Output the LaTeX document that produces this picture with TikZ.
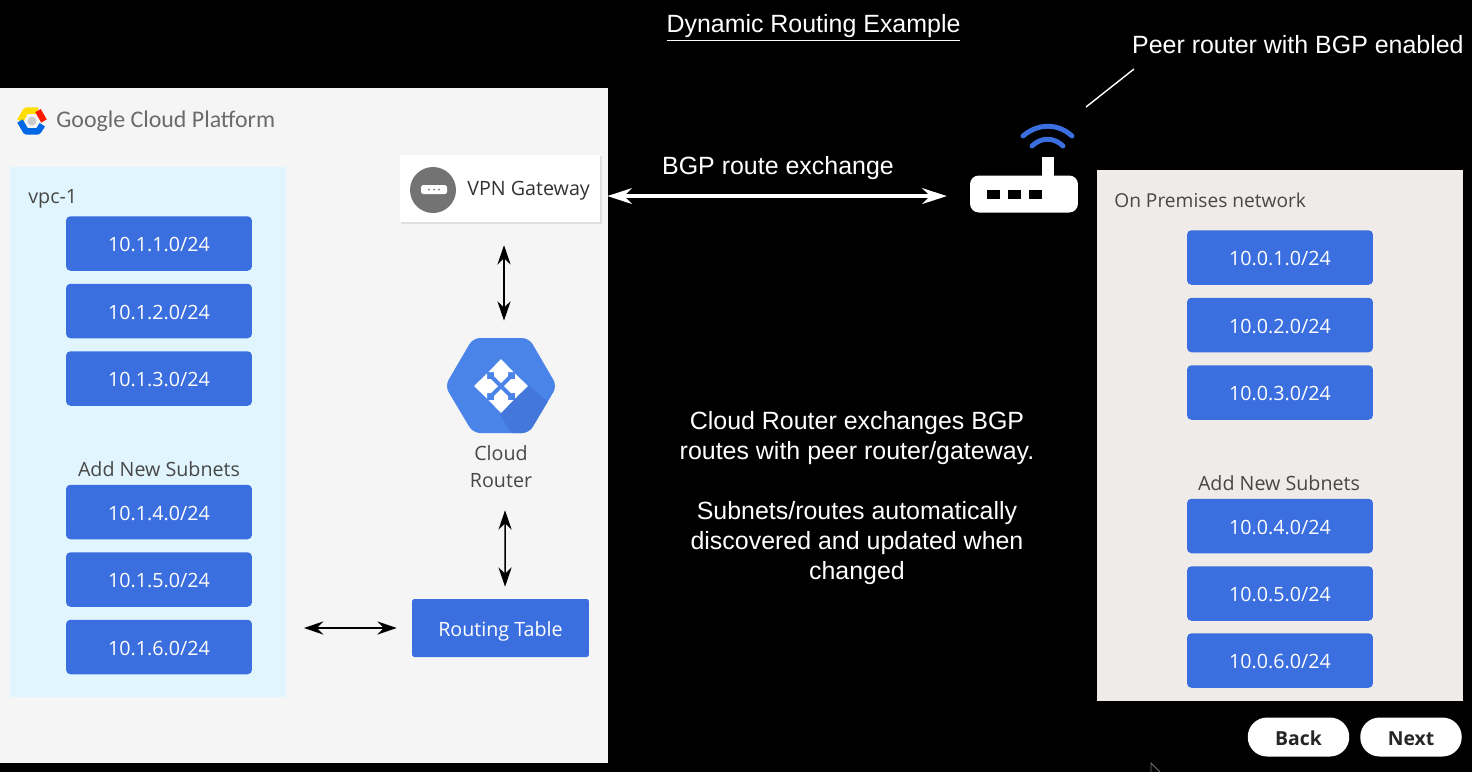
\documentclass[tikz,border=0pt]{standalone}
\usepackage{fontspec}
\setmainfont{Liberation Sans}
\newfontfamily\lblfont{Open Sans}
\newfontfamily\logofont{Carlito}
\usetikzlibrary{shapes.geometric,arrows.meta}
\definecolor{subnetblue}{HTML}{3B6FDF}
\definecolor{gcpgray}{HTML}{F5F5F5}
\definecolor{vpcblue}{HTML}{E1F5FE}
\definecolor{prempanel}{HTML}{EFEBE9}
\definecolor{hexblue}{HTML}{4A84E8}
\definecolor{hexdark}{HTML}{4378DA}
\newcommand{\lowtext}[1]{\raisebox{-1.5pt}{#1}}
\tikzset{
  subnet/.style={fill=subnetblue,rounded corners=2.5pt,minimum width=3.72cm,minimum height=1.09cm,inner sep=0pt,text=white,text depth=0pt,font=\lblfont\fontsize{11.2}{12}\selectfont},
  darklabel/.style={text=black!72,inner sep=0pt,font=\lblfont\fontsize{11.2}{12}\selectfont},
  whitelabel/.style={text=white,inner sep=0pt,align=center,font=\fontsize{14.2}{17.1}\selectfont},
  dblarrow/.style={{Stealth[length=11pt,width=7.5pt]}-{Stealth[length=11pt,width=7.5pt]},line width=0.9pt},
  navbtn/.style={fill=white,rounded corners=11pt,minimum width=2.03cm,minimum height=0.78cm,inner sep=0pt,text depth=0pt,font=\lblfont\bfseries\fontsize{11}{12}\selectfont,text=black!85}
}
\begin{document}
\begin{tikzpicture}[x=0.02cm,y=-0.02cm]
\useasboundingbox (0,0) rectangle (1472,772);
\fill[black] (0,0) rectangle (1472,772);
%panels
\fill[gcpgray] (0,88) rectangle (608,763);
\fill[vpcblue] (10,167) rectangle (286,697);
\fill[prempanel] (1097,170) rectangle (1463,701);
%logo
\begin{scope}[shift={(32,121)},line width=3.6pt,line join=round]
\draw[yellow!80!orange] (180:12)--(240:12)--(300:12);
\draw[blue!55!cyan!90!black] (180:12)--(120:12)--(60:12)--(20:11);
\draw[red!80!orange] (0:12)--(300:12);
\fill[black!20] (0,0) circle (4.5);
\end{scope}
\node[text=black!58,inner sep=0pt,anchor=west,font=\logofont\fontsize{13.6}{15}\selectfont] (gcplabel) at (56,121) {Google Cloud Platform};
\node[darklabel,anchor=west] (vpclabel) at (28,199) {vpc-1};
\node[darklabel] (addleft) at (159,469.5) {Add New Subnets};
\node[darklabel,anchor=west,font=\lblfont\fontsize{10.9}{12}\selectfont] (premlabel) at (1114,200) {On Premises network};
\node[darklabel] (addright) at (1279,483.5) {Add New Subnets};
%subnets
\foreach \y/\n in {243.5/1,311/2,378.5/3,512/4,579.5/5,647/6}
  \node[subnet] (left\n) at (159,\y) {\lowtext{10.1.\n.0/24}};
\foreach \y/\n in {257.5/1,325/2,392.5/3,526/4,593.5/5,660.5/6}
  \node[subnet] (right\n) at (1280,\y) {\lowtext{10.0.\n.0/24}};
%gateway
\fill[black!12] (401,156) rectangle (601.5,223.5);
\node[fill=white,minimum width=4cm,minimum height=1.34cm,inner sep=0pt] (vpngw) at (500,188.5) {};
\fill[black!55] (433,190) circle (23);
\fill[white,rounded corners=1pt] (421,185) rectangle (447,194);
\foreach \x in {429,434,439} \fill[black!55] (\x,189.5) circle (1);
\node[darklabel,text=black!80,anchor=west] (vpnlabel) at (467,190.5) {VPN Gateway};
%cloud router
\begin{scope}
\clip[rounded corners=4pt] (445,386)--(473,338)--(529,338)--(557,386)--(529,433)--(473,433)--cycle;
\fill[hexblue] (440,330) rectangle (560,440);
\fill[hexdark] (528,385)--(560,412)--(560,440)--(516,440)--(500,415)--cycle;
\end{scope}
\foreach \a in {0,90,180,270}
  \fill[white,shift={(501,386)},rotate=\a] (0,-27)--(-12.5,-14)--(-7,-14)--(-7,-10)--(0,-3)--(7,-10)--(7,-14)--(12.5,-14)--cycle;
\node[minimum width=2.16cm,minimum height=1.9cm,inner sep=0pt] (cloudrtr) at (501,385.5) {};
\node[darklabel,align=center,font=\lblfont\fontsize{11.2}{15.4}\selectfont] (rtrlabel) at (501,467) {Cloud\\Router};
\node[fill=subnetblue,rounded corners=1pt,minimum width=3.54cm,minimum height=1.16cm,inner sep=0pt,text=white,text depth=0pt,font=\lblfont\fontsize{11.2}{12}\selectfont] (rtable) at (500.5,628) {\lowtext{Routing Table}};
%router
\node[fill=white,rounded corners=5pt,minimum width=2.16cm,minimum height=0.74cm,inner sep=0pt] (peerrtr) at (1024,194) {};
\fill[white] (1042,157) rectangle (1054,178);
\foreach \x in {987,1008,1029} \fill[black] (\x,190) rectangle +(13,9);
\draw[subnetblue,line width=2.8pt,line cap=round] (1023,136) .. controls (1038,123) and (1058,123) .. (1072,136);
\draw[subnetblue,line width=2.8pt,line cap=round] (1032,146) .. controls (1041,137) and (1054,137) .. (1063,146);
%text
\node[whitelabel] (title) at (813.5,28) {\underline{Dynamic Routing Example}};
\node[whitelabel,anchor=east] (peerlabel) at (1464,45) {Peer router with BGP enabled};
\node[whitelabel] (bgplabel) at (778,168) {BGP route exchange};
\node[whitelabel] (infotext) at (857,498) {Cloud Router exchanges BGP\\routes with peer router/gateway.\\[\baselineskip]Subnets/routes automatically\\discovered and updated when\\changed};
\coordinate (peertip) at (1086,107);
\coordinate (peerend) at (1134,69);
\draw[white,line width=0.8pt] (peerend)--(peertip);
%arrows
\draw[{Stealth[length=14pt,width=9pt]}-{Stealth[length=14pt,width=9pt]},white,line width=1.8pt,shorten <=4pt,shorten >=13pt] ([yshift=-4.3pt]vpngw.east)--([yshift=-4.3pt]vpngw.east -| peerrtr.west);
\draw[dblarrow,shorten <=13pt,shorten >=9.7pt] ([xshift=2.3pt]vpngw.south)--([xshift=1.7pt]cloudrtr.north);
\draw[dblarrow,shorten <=43.8pt,shorten >=6.8pt] ([xshift=2.3pt]cloudrtr.south)--([xshift=2.6pt]rtable.north);
\coordinate (vpcedge) at (304,628);
\draw[dblarrow,shorten >=8.5pt] (vpcedge)--(rtable.west);
%nav
\node[navbtn] (backbtn) at (1298.5,737) {\lowtext{Back}};
\node[navbtn] (nextbtn) at (1411,737) {\lowtext{Next}};
\draw[black!55,line width=0.5pt] (1151,772)--(1151,763)--(1160,772);
\end{tikzpicture}
\end{document}
